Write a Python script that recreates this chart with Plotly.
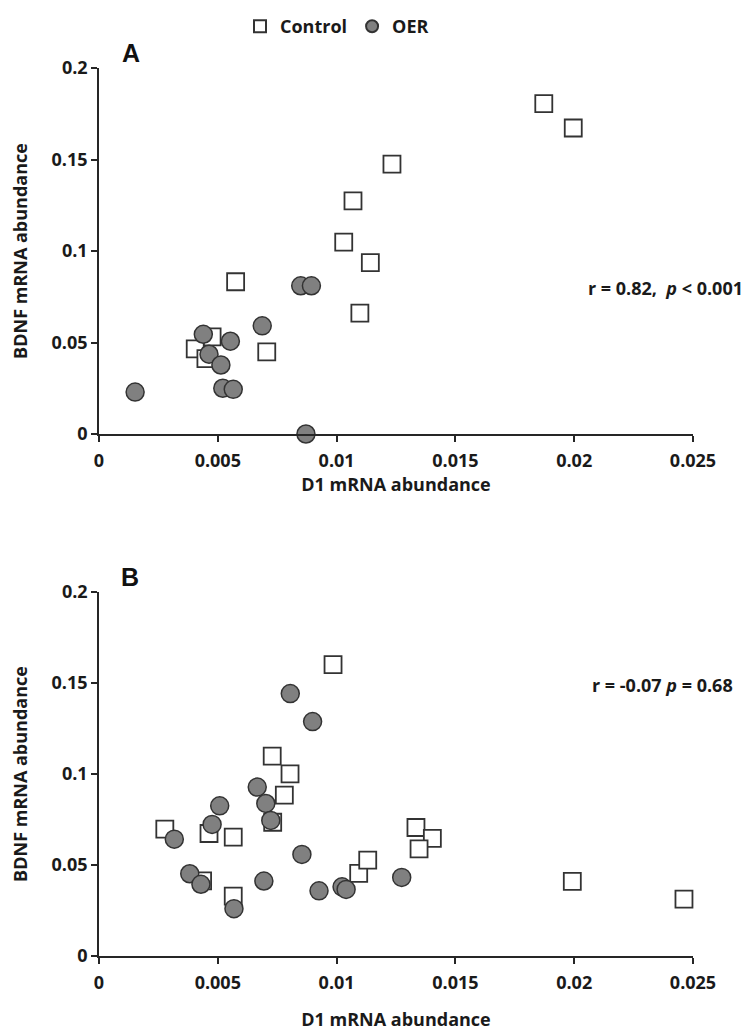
import plotly.graph_objects as go

# ---------------- data ----------------
# Panel A
a_ctrl_x = [0.01872, 0.01996, 0.01233, 0.01069, 0.01030, 0.01142, 0.01098,
            0.00575, 0.00706, 0.00476, 0.00405, 0.00450]
a_ctrl_y = [0.1805, 0.1672, 0.1475, 0.1274, 0.1048, 0.0936, 0.0660,
            0.0832, 0.0449, 0.0531, 0.0465, 0.0412]
a_oer_x = [0.00152, 0.00439, 0.00553, 0.00463, 0.00513, 0.00521, 0.00565,
           0.00687, 0.00849, 0.00894, 0.00871]
a_oer_y = [0.0229, 0.0545, 0.0507, 0.0436, 0.0377, 0.0250, 0.0244,
           0.0591, 0.0810, 0.0810, 0.0000]

# Panel B
b_ctrl_x = [0.00985, 0.00729, 0.00804, 0.00780, 0.00731, 0.00277, 0.00463,
            0.00565, 0.00436, 0.00565, 0.01093, 0.01131, 0.01334, 0.01403,
            0.01347, 0.01992, 0.02462]
b_ctrl_y = [0.1601, 0.1098, 0.1001, 0.0884, 0.0735, 0.0697, 0.0673,
            0.0653, 0.0413, 0.0329, 0.0454, 0.0527, 0.0706, 0.0646,
            0.0589, 0.0410, 0.0313]
b_oer_x = [0.00805, 0.00899, 0.00666, 0.00702, 0.00723, 0.00508, 0.00476,
           0.00317, 0.00382, 0.00429, 0.00568, 0.00694, 0.00854, 0.00926,
           0.01023, 0.01040, 0.01274]
b_oer_y = [0.1442, 0.1288, 0.0928, 0.0838, 0.0745, 0.0825, 0.0723,
           0.0642, 0.0452, 0.0394, 0.0260, 0.0412, 0.0558, 0.0358,
           0.0380, 0.0366, 0.0432]

x_ticks = [0, 0.005, 0.01, 0.015, 0.02, 0.025]
x_tick_text = ["0", "0.005", "0.01", "0.015", "0.02", "0.025"]
y_ticks = [0, 0.05, 0.1, 0.15, 0.2]
y_tick_text = ["0", "0.05", "0.1", "0.15", "0.2"]

stats_a = "r = 0.82,  <i>p</i> < 0.001"
stats_b = "r = -0.07 <i>p</i> = 0.68"
x_title = "D1 mRNA abundance"
y_title = "BDNF mRNA abundance"

# ---------------- style ----------------
FONT = "Open Sans"
DARK = "#262626"
TXT = "#1a1a1a"
sq_marker = dict(symbol="square", size=17, color="white",
                 line=dict(color="#333333", width=1.8))
ci_marker = dict(symbol="circle", size=18, color="#808080",
                 line=dict(color="#333333", width=1.5))

fig = go.Figure()
fig.add_trace(go.Scatter(x=a_ctrl_x, y=a_ctrl_y, mode="markers", name="Control",
                         marker=sq_marker, xaxis="x", yaxis="y", cliponaxis=False))
fig.add_trace(go.Scatter(x=a_oer_x, y=a_oer_y, mode="markers", name="OER",
                         marker=ci_marker, xaxis="x", yaxis="y", cliponaxis=False))
fig.add_trace(go.Scatter(x=b_ctrl_x, y=b_ctrl_y, mode="markers", name="Control",
                         marker=sq_marker, xaxis="x2", yaxis="y2", cliponaxis=False,
                         showlegend=False))
fig.add_trace(go.Scatter(x=b_oer_x, y=b_oer_y, mode="markers", name="OER",
                         marker=ci_marker, xaxis="x2", yaxis="y2", cliponaxis=False,
                         showlegend=False))

OFF = 8  # page body margin
W, H = 748, 1025
L, R, T, B = 91, 63, 60, 77
ph = H - T - B
pw = W - L - R


def py(p):  # page pixel y -> paper y
    return (H - B - (p - OFF)) / ph


def px(p):  # page pixel x -> paper x
    return (p - OFF - L) / pw


tickfont = dict(family=FONT, size=18, color=TXT, weight="bold")
titlefont = dict(family=FONT, size=18, color=TXT, weight="bold")

common_x = dict(range=[0, 0.025], tickvals=x_ticks, ticktext=x_tick_text,
                showline=True, linecolor=DARK, linewidth=1.6, ticks="outside",
                ticklen=6, tickwidth=1.6, tickcolor=DARK, showgrid=False,
                zeroline=False, tickfont=tickfont, fixedrange=True, automargin=False,
                ticklabelstandoff=4)
common_y = dict(range=[0, 0.2], tickvals=y_ticks, ticktext=y_tick_text,
                showline=True, linecolor=DARK, linewidth=1.6, ticks="outside",
                ticklen=6, tickwidth=1.6, tickcolor=DARK, showgrid=False,
                zeroline=False, tickfont=tickfont, fixedrange=True, automargin=False)

fig.update_layout(
    width=W, height=H,
    margin=dict(l=L, r=R, t=T, b=B),
    paper_bgcolor="white", plot_bgcolor="white",
    xaxis=dict(common_x, domain=[0, 1], anchor="y",
               title=dict(text=x_title, font=titlefont, standoff=6)),
    yaxis=dict(common_y, domain=[py(434), 1], anchor="x",
               title=dict(text=y_title, font=titlefont, standoff=22)),
    xaxis2=dict(common_x, domain=[0, 1], anchor="y2",
                title=dict(text=x_title, font=titlefont, standoff=20)),
    yaxis2=dict(common_y, domain=[0, py(592)], anchor="x2",
                title=dict(text=y_title, font=titlefont, standoff=22)),
    legend=dict(orientation="h", xref="container", yref="container",
                x=(240 - OFF) / W, y=1.0, xanchor="left", yanchor="top",
                font=dict(family=FONT, size=18, color=TXT, weight="bold"),
                itemsizing="constant", bgcolor="rgba(0,0,0,0)", traceorder="normal",
                itemwidth=30),
    showlegend=True,
)

for letter, lx, ly in [("A", 131, 53), ("B", 130, 577)]:
    fig.add_annotation(xref="paper", yref="paper", x=px(lx), y=py(ly), text=letter,
                       showarrow=False, xanchor="center", yanchor="middle",
                       font=dict(family="Liberation Sans", size=25, color="#111111",
                                 weight="bold"))

fig.add_annotation(xref="paper", yref="paper", x=px(586), y=py(288), text=stats_a,
                   showarrow=False, xanchor="left", yanchor="middle",
                   font=dict(family=FONT, size=18, color=TXT, weight="bold"))
fig.add_annotation(xref="paper", yref="paper", x=px(590), y=py(685), text=stats_b,
                   showarrow=False, xanchor="left", yanchor="middle",
                   font=dict(family=FONT, size=18, color=TXT, weight="bold"))

fig.write_html("out.html")
